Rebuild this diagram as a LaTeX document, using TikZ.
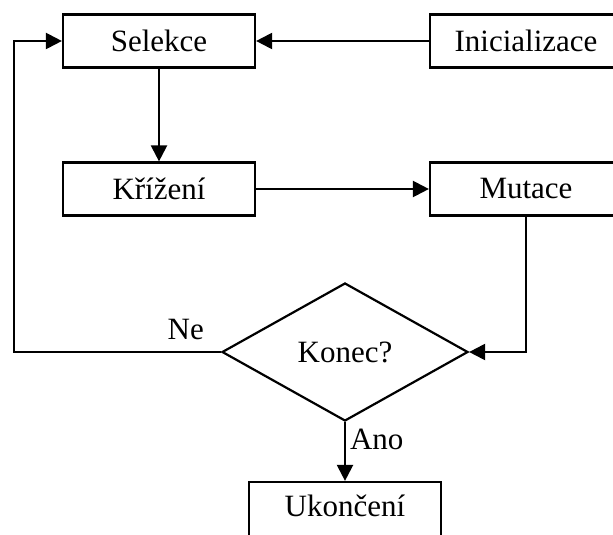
\documentclass[tikz,border=0pt]{standalone}
\usepackage{fontspec}
\setmainfont{Liberation Serif}
\usetikzlibrary{shapes.geometric,arrows.meta}
\tikzset{
  krok/.style={draw, line width=1.1pt, minimum width=96pt, minimum height=26.5pt,
    inner sep=0pt, font=\fontsize{15.5}{18}\selectfont},
  rozhod/.style={diamond, draw, line width=1.1pt, minimum width=123pt,
    minimum height=69pt, aspect=1.78, inner sep=0pt, font=\fontsize{15.5}{18}\selectfont},
  sipka/.style={line width=1.1pt, -{Triangle[length=8pt,width=8pt]}},
  popisek/.style={font=\fontsize{15.5}{18}\selectfont, inner sep=2pt}
}
\begin{document}
\begin{tikzpicture}[x=0.5pt,y=-0.5pt]
    \useasboundingbox (0,0) rectangle (613,534);
    \foreach \jmeno/\x/\y/\popis in {sel/159/41/Selekce,init/526/41/Inicializace,
      kriz/159/189/Křížení,mut/526/189/Mutace}{
      \node[krok] (\jmeno) at (\x,\y) {\popis};
    }
    \node[krok, minimum height=30pt, text depth=6pt] (ukon) at (345,512) {Ukončení};
    \node[rozhod] (konec) at (345,352) {Konec?};
    \coordinate (obrat) at (14,41);

    \draw[sipka] (init) -- (sel);
    \draw[sipka] (sel) -- (kriz);
    \draw[sipka] (kriz) -- (mut);
    \draw[sipka] (mut.south) |- (konec.east);
    \draw[sipka] (konec.west) node[popisek, anchor=south east, xshift=-6pt, yshift=3.5pt] {Ne}
      -| (obrat) -- (sel.west);
    \draw[sipka] (konec.south) -- node[popisek, right, pos=0.3] {Ano} (ukon.north);
  \end{tikzpicture}
\end{document}
